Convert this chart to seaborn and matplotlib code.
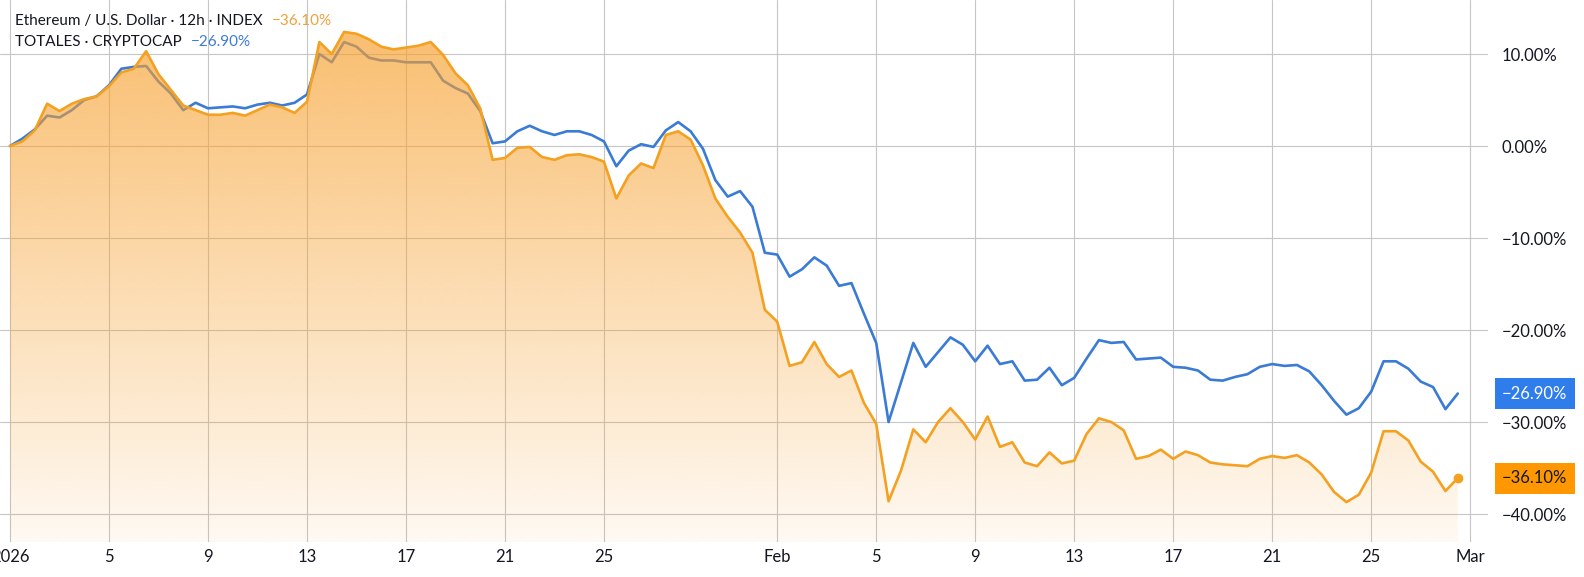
import numpy as np
import pandas as pd
import matplotlib
matplotlib.use("Agg")
import matplotlib.pyplot as plt
import matplotlib.dates as mdates
import seaborn as sns

sns.set_theme(style="white")
plt.rcParams['font.family'] = ['Lato', 'DejaVu Sans']

# 12h closes, % change since 2026-01-01
start = "2026-01-01"
eth = [0.0, 0.5, 1.7, 4.6, 3.8, 4.6, 5.1, 5.4, 6.5, 8.0,
       8.4, 10.3, 7.8, 6.1, 4.4, 3.9, 3.4, 3.4, 3.6, 3.3,
       3.9, 4.5, 4.2, 3.6, 4.8, 11.3, 10.0, 12.4, 12.2, 11.6,
       10.8, 10.5, 10.7, 10.9, 11.3, 9.9, 7.9, 6.6, 4.1, -1.5,
       -1.3, -0.2, -0.1, -1.2, -1.5, -1.0, -0.9, -1.2, -1.7, -5.7,
       -3.2, -1.9, -2.4, 1.2, 1.6, 0.7, -2.1, -5.7, -7.7, -9.4,
       -11.6, -17.8, -19.1, -23.9, -23.5, -21.3, -23.7, -25.1, -24.4, -27.9,
       -30.2, -38.6, -35.3, -30.8, -32.2, -30.0, -28.5, -30.0, -31.9, -29.4,
       -32.7, -32.2, -34.4, -34.8, -33.3, -34.5, -34.2, -31.3, -29.6, -30.0,
       -30.9, -34.0, -33.7, -33.0, -34.0, -33.2, -33.6, -34.4, -34.6, -34.7,
       -34.8, -34.0, -33.7, -33.9, -33.6, -34.4, -35.7, -37.6, -38.7, -37.9,
       -35.5, -31.0, -31.0, -32.0, -34.3, -35.4, -37.5, -36.1]
total = [0.0, 0.8, 1.8, 3.3, 3.1, 3.9, 5.0, 5.4, 6.6, 8.4,
         8.6, 8.7, 7.0, 5.7, 3.9, 4.7, 4.1, 4.2, 4.3, 4.1,
         4.5, 4.7, 4.4, 4.7, 5.6, 10.0, 9.1, 11.3, 10.8, 9.6,
         9.3, 9.3, 9.1, 9.1, 9.1, 7.1, 6.3, 5.7, 3.8, 0.3,
         0.5, 1.6, 2.2, 1.6, 1.2, 1.6, 1.6, 1.2, 0.5, -2.2,
         -0.5, 0.2, -0.1, 1.7, 2.6, 1.6, -0.3, -3.7, -5.5, -4.9,
         -6.6, -11.6, -11.8, -14.2, -13.4, -12.1, -13.0, -15.2, -14.9, -18.2,
         -21.4, -30.0, -25.7, -21.4, -24.0, -22.4, -20.8, -21.6, -23.4, -21.7,
         -23.7, -23.4, -25.5, -25.4, -24.1, -26.0, -25.2, -23.1, -21.1, -21.4,
         -21.3, -23.2, -23.1, -23.0, -24.0, -24.1, -24.4, -25.4, -25.5, -25.1,
         -24.8, -24.0, -23.7, -23.9, -23.8, -24.5, -26.0, -27.7, -29.2, -28.5,
         -26.7, -23.4, -23.4, -24.2, -25.6, -26.2, -28.6, -26.9]

eth_name = "Ethereum / U.S. Dollar · 12h · INDEX"
total_name = "TOTALES · CRYPTOCAP"
tick_days = ["2026-01-01", "2026-01-05", "2026-01-09", "2026-01-13", "2026-01-17",
             "2026-01-21", "2026-01-25", "2026-02-01", "2026-02-05", "2026-02-09",
             "2026-02-13", "2026-02-17", "2026-02-21", "2026-02-25", "2026-03-01"]
tick_labels = ["2026", "5", "9", "13", "17", "21", "25", "Feb",
               "5", "9", "13", "17", "21", "25", "Mar"]
y_ticks = [-40, -30, -20, -10, 0, 10]

orange = "#F4A121"
orange_box = "#FF9800"
blue = "#3A7BD5"
blue_box = "#2F7CEB"
ink = "#131722"


def pct(v):
    return f"{v:.2f}%".replace("-", "\u2212")


dates = pd.date_range(start, periods=len(eth), freq="12h")
df = pd.DataFrame({"date": dates, "ETH": eth, "TOTALES": total})

W, H = 1584, 577
fig = plt.figure(figsize=(W / 100, H / 100), dpi=100)
ax = fig.add_axes([0, 1 - 542 / H, 1488 / W, 542 / H])

ymin, ymax = -43.04, 15.87
xn = mdates.date2num(df["date"])

sns.lineplot(data=df, x="date", y="TOTALES", color=blue, lw=1.9, ax=ax, zorder=2)

# gradient area under ETH
poly = ax.fill_between(xn, df["ETH"], ymin, facecolor="none", edgecolor="none")
grad = np.zeros((256, 1, 4))
grad[..., 0], grad[..., 1], grad[..., 2] = 247 / 255, 160 / 255, 45 / 255
grad[:, 0, 3] = np.linspace(0.06, 0.68, 256)
im = ax.imshow(grad, extent=[xn[0], xn[-1], ymin, max(eth)], origin="lower",
               aspect="auto", zorder=3, interpolation="bilinear")
im.set_clip_path(poly.get_paths()[0], transform=ax.transData)

sns.lineplot(data=df, x="date", y="ETH", color=orange, lw=1.9, ax=ax, zorder=4)
ax.plot(xn[-1], eth[-1], "o", ms=6, color=orange, zorder=5)

x0 = mdates.date2num(pd.Timestamp(start))
ax.set_xlim(x0 - 0.404, x0 + 59.72)
ax.set_ylim(ymin, ymax)

ax.set_xticks(mdates.date2num(pd.to_datetime(tick_days)))
ax.set_xticklabels(tick_labels)
ax.set_yticks(y_ticks)
ax.set_yticklabels([pct(v) for v in y_ticks])
ax.yaxis.tick_right()
ax.tick_params(axis="y", length=0, pad=10, labelsize=12, labelcolor=ink)
ax.tick_params(axis="x", length=0, pad=5, labelsize=12, labelcolor=ink)
ax.grid(True, color="#c6c6c6", lw=0.8)
ax.set_axisbelow(True)
ax.set_xlabel("")
ax.set_ylabel("")
for s in ax.spines.values():
    s.set_visible(False)

# header legend
t1 = fig.text(15 / W, 1 - 21 / H, eth_name, fontsize=11, color=ink, va="center")
ax.annotate(pct(eth[-1]), xy=(1, 0.5), xycoords=t1, xytext=(9, 0),
            textcoords="offset pixels", va="center", fontsize=11,
            color="#EFA23A", annotation_clip=False)
t2 = fig.text(15 / W, 1 - 42 / H, total_name, fontsize=11, color=ink, va="center")
ax.annotate(pct(total[-1]), xy=(1, 0.5), xycoords=t2, xytext=(9, 0),
            textcoords="offset pixels", va="center", fontsize=11,
            color="#3D7BD8", annotation_clip=False)

# last value badges on price scale
ax.annotate(pct(total[-1]), xy=(1502 / W, total[-1]), xycoords=("figure fraction", "data"),
            va="center", ha="left", fontsize=12, color="white", annotation_clip=False,
            bbox=dict(boxstyle="square,pad=0.45", fc=blue_box, ec="none"))
ax.annotate(pct(eth[-1]), xy=(1502 / W, eth[-1]), xycoords=("figure fraction", "data"),
            va="center", ha="left", fontsize=12, color=ink, annotation_clip=False,
            bbox=dict(boxstyle="square,pad=0.45", fc=orange_box, ec="none"))

fig.savefig("out.png", dpi=100, facecolor="white")
